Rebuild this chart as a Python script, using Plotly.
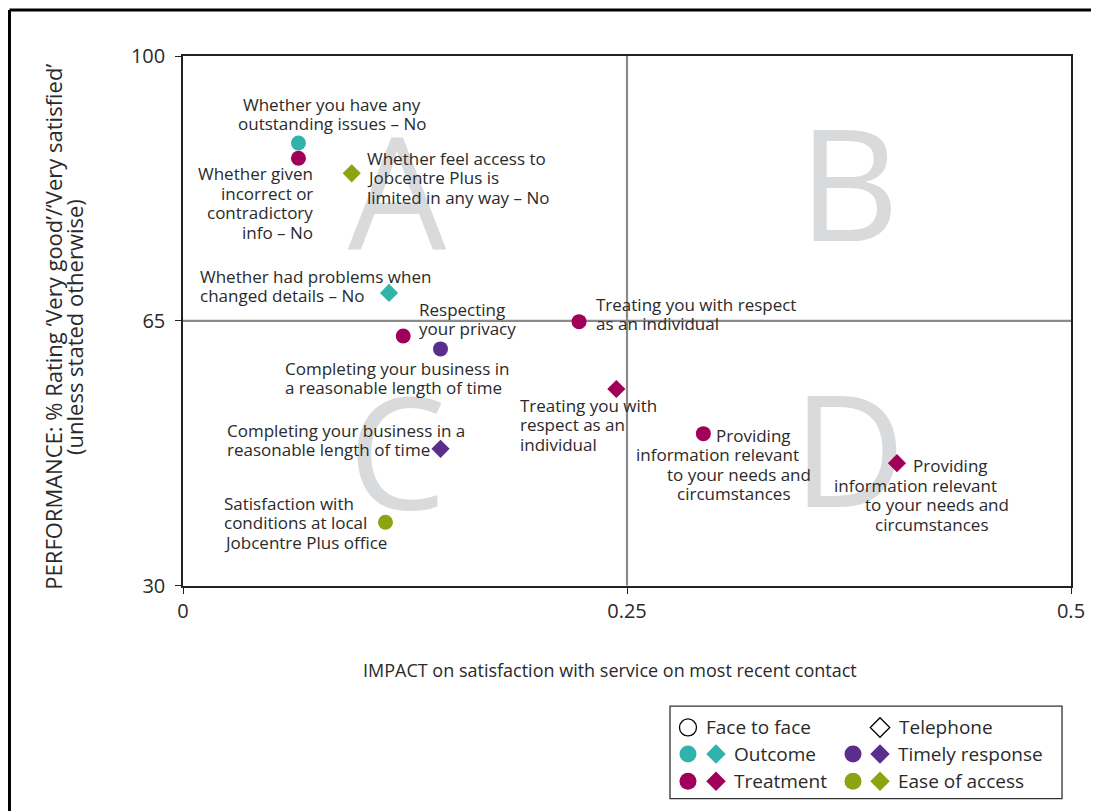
import plotly.graph_objects as go

# ---------------- data ----------------
labels = [
    "Whether you have any outstanding issues – No",
    "Whether given incorrect or contradictory info – No",
    "Whether feel access to Jobcentre Plus is limited in any way – No",
    "Whether had problems when changed details – No",
    "Respecting your privacy",
    "Completing your business in a reasonable length of time (face to face)",
    "Treating you with respect as an individual (face to face)",
    "Treating you with respect as an individual (telephone)",
    "Completing your business in a reasonable length of time (telephone)",
    "Satisfaction with conditions at local Jobcentre Plus office",
    "Providing information relevant to your needs and circumstances (face to face)",
    "Providing information relevant to your needs and circumstances (telephone)",
]
impact = [0.065, 0.065, 0.095, 0.116, 0.124, 0.145, 0.223, 0.244, 0.145, 0.114, 0.293, 0.402]
performance = [88.5, 86.5, 84.5, 68.7, 63.0, 61.3, 64.9, 56.0, 48.1, 38.4, 50.1, 46.2]
dimension = ["Outcome", "Treatment", "Ease of access", "Outcome", "Treatment", "Timely response",
             "Treatment", "Treatment", "Timely response", "Ease of access", "Treatment", "Treatment"]
channel = ["Face to face", "Face to face", "Telephone", "Telephone", "Face to face", "Face to face",
           "Face to face", "Telephone", "Telephone", "Face to face", "Face to face", "Telephone"]

dimensions = ["Outcome", "Treatment", "Timely response", "Ease of access"]
channels = ["Face to face", "Telephone"]
quadrant_letters = ["A", "B", "C", "D"]
x_ticks = [0, 0.25, 0.5]
x_tick_text = ["0", "0.25", "0.5"]
y_ticks = [30, 65, 100]
x_split = 0.25
y_split = 65

# ---------------- styles ----------------
colors = {"Outcome": "#2fb3ab", "Treatment": "#a0005a",
          "Timely response": "#5b2e8d", "Ease of access": "#8ba412"}
symbols = {"Face to face": "circle", "Telephone": "diamond"}
sizes = {"Face to face": 15, "Telephone": 14}
FONT = "Open Sans"
TXT = "#2a2a2a"
LABEL_SIZE = 17
LINE_STEP = 2.58   # label line spacing in y-axis units

fig = go.Figure()

# big quadrant letters near quadrant centres (drawn first so markers sit on top)
xmin, xmax = x_ticks[0], x_ticks[-1]
ymin, ymax = y_ticks[0], y_ticks[-1]
qx = [(xmin + x_split) / 2, (x_split + xmax) / 2, (xmin + x_split) / 2, (x_split + xmax) / 2]
qy = [(y_split + ymax) / 2, (y_split + ymax) / 2, (ymin + y_split) / 2, (ymin + y_split) / 2]
nudge_x = [-0.0045, 0.0, -0.0045, 0.0]
nudge_y = [-2.8, -1.8, -2.2, -2.0]
fig.add_trace(go.Scatter(x=[a + b for a, b in zip(qx, nudge_x)],
                         y=[a + b for a, b in zip(qy, nudge_y)],
                         text=quadrant_letters, mode="text", textposition="middle center",
                         textfont=dict(family=FONT, size=156, color="#d9dadb"),
                         hoverinfo="skip", showlegend=False))

for d in dimensions:
    for c in channels:
        idx = [i for i in range(len(labels)) if dimension[i] == d and channel[i] == c]
        if not idx:
            continue
        fig.add_trace(go.Scatter(
            x=[impact[i] for i in idx], y=[performance[i] for i in idx],
            text=[labels[i] for i in idx], mode="markers",
            marker=dict(symbol=symbols[c], size=sizes[c], color=colors[d], opacity=1,
                        line=dict(width=0)),
            name=f"{d} – {c}", showlegend=False, hovertemplate="%{text}<extra></extra>"))

# ---------------- legend (custom, on its own hidden axes) ----------------
leg_rows = [21, 47, 74]
fig.add_trace(go.Scatter(x=[18, 210], y=[leg_rows[0]] * 2, mode="markers",
                         marker=dict(symbol=["circle-open", "diamond-open"], size=[17, 15],
                                     color="#000000", opacity=1, line=dict(width=1.3)),
                         xaxis="x2", yaxis="y2", showlegend=False, hoverinfo="skip"))
leg_layout = [("Outcome", 18, 46, 1), ("Treatment", 18, 46, 2),
              ("Timely response", 183, 210, 1), ("Ease of access", 183, 210, 2)]
for d, cx, dx, r in leg_layout:
    fig.add_trace(go.Scatter(x=[cx, dx], y=[leg_rows[r]] * 2, mode="markers",
                             marker=dict(symbol=["circle", "diamond"], size=[17, 15],
                                         color=colors[d], opacity=1, line=dict(width=0)),
                             xaxis="x2", yaxis="y2", showlegend=False, hoverinfo="skip"))

annotations = []
def leg_text(x, y, t):
    annotations.append(dict(x=x, y=y, xref="x2", yref="y2", text=t, showarrow=False,
                            xanchor="left", yanchor="middle",
                            font=dict(family=FONT, size=19, color=TXT)))
leg_text(34, leg_rows[0], channels[0])
leg_text(227, leg_rows[0], channels[1])
for d, cx, dx, r in leg_layout:
    leg_text(dx + 16, leg_rows[r], d)

# ---------------- point labels (one annotation per line, tight line spacing) ----------------
def lab(x, yc, lines, xanchor="left"):
    n = len(lines)
    for k, t in enumerate(lines):
        yy = yc + ((n - 1) / 2 - k) * LINE_STEP
        xx = x[k] if isinstance(x, (list, tuple)) else x
        annotations.append(dict(x=xx, y=yy, xref="x", yref="y", text=t, showarrow=False,
                                xanchor=xanchor, yanchor="middle",
                                font=dict(family=FONT, size=LABEL_SIZE, color=TXT)))

lab(0.0840, 92.34, ["Whether you have any", "outstanding issues – No"], "center")
lab(0.0743, 80.58, ["Whether given", "incorrect or", "contradictory", "info – No"], "right")
lab(0.1025, 83.89, ["Whether feel access to", "Jobcentre Plus is", "limited in any way – No"])
lab(0.00845, 69.62, ["Whether had problems when", "changed details – No"])
lab(0.1318, 65.26, ["Respecting", "your privacy"])
lab(0.0563, 57.47, ["Completing your business in", "a reasonable length of time"])
lab(0.2314, 65.92, ["Treating you with respect", "as an individual"])
lab(0.1886, 51.26, ["Treating you with", "respect as an", "individual"])
lab(0.02365, 49.28, ["Completing your business in a", "reasonable length of time"])
lab(0.02196, 38.32, ["Satisfaction with", "conditions at local", "Jobcentre Plus office"])
prov = ["Providing", "information relevant", "to your needs and", "circumstances"]
lab([0.2990, 0.2539, 0.2714, 0.2770], 46.05, prov)
lab([0.4099, 0.3654, 0.3829, 0.3885], 42.02, prov)

# axis titles
annotations.append(dict(x=0.4809, y=0.1809, xref="paper", yref="paper",
                        text="IMPACT on satisfaction with service on most recent contact",
                        showarrow=False, xanchor="center", yanchor="middle",
                        font=dict(family=FONT, size=18, color=TXT)))
for xp, t in [(-0.1465, "PERFORMANCE: % Rating ‘Very good’/‘Very satisfied’"),
              (-0.1225, "(unless stated otherwise)")]:
    annotations.append(dict(x=xp, y=0.639, xref="paper", yref="paper", textangle=-90,
                            text=t, showarrow=False, xanchor="center", yanchor="middle",
                            font=dict(family=FONT, size=22, color=TXT)))

# ---------------- shapes ----------------
shapes = [
    dict(type="line", xref="x", yref="y", x0=x_split, x1=x_split, y0=ymin, y1=ymax,
         line=dict(color="#8a8a8a", width=2.2), layer="below"),
    dict(type="line", xref="x", yref="y", x0=xmin, x1=xmax, y0=y_split, y1=y_split,
         line=dict(color="#8a8a8a", width=2.2), layer="below"),
    # legend box
    dict(type="rect", xref="x2 domain", yref="y2 domain", x0=0, x1=1, y0=0, y1=1,
         line=dict(color="#333333", width=1.3)),
    # outer frame (top and left)
    dict(type="line", xref="paper", yref="paper", x0=-0.1954, x1=1.1, y0=1.0615, y1=1.0615,
         line=dict(color="#000000", width=3)),
    dict(type="line", xref="paper", yref="paper", x0=-0.1954, x1=-0.1954, y0=1.0615, y1=-0.05,
         line=dict(color="#000000", width=3)),
]

axis_common = dict(showgrid=False, zeroline=False, showline=True, linecolor="#222222",
                   linewidth=1.5, mirror=True, ticks="outside", ticklen=6,
                   tickcolor="#222222", tickfont=dict(family=FONT, size=20, color=TXT))

fig.update_layout(
    width=1099, height=811,
    margin=dict(l=175, r=36, t=48, b=0),
    paper_bgcolor="white", plot_bgcolor="white",
    showlegend=False,
    xaxis=dict(range=[xmin, xmax], tickvals=x_ticks, ticktext=x_tick_text,
               domain=[0, 1], anchor="y", **axis_common),
    yaxis=dict(range=[ymin, ymax], tickvals=y_ticks, domain=[0.2936, 1], anchor="x",
               ticklabelstandoff=6, **axis_common),
    xaxis2=dict(domain=[0.5484, 0.9899], range=[0, 392], visible=False, anchor="y2",
                fixedrange=True),
    yaxis2=dict(domain=[0.0098, 0.1332], range=[91, 0], visible=False, anchor="x2",
                fixedrange=True),
    annotations=annotations,
    shapes=shapes,
    font=dict(family=FONT, color=TXT),
)

fig.write_html("out.html")
